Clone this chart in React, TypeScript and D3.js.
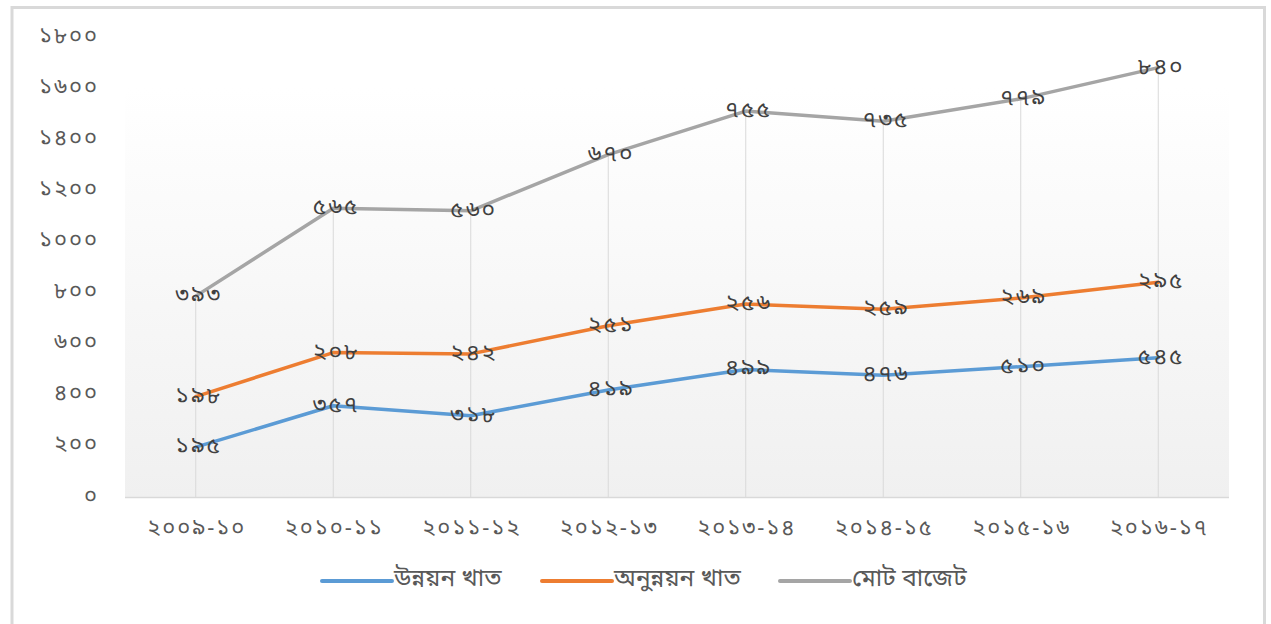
import * as d3 from "d3";

const years = ["২০০৯-১০", "২০১০-১১", "২০১১-১২", "২০১২-১৩", "২০১৩-১৪", "২০১৪-১৫", "২০১৫-১৬", "২০১৬-১৭"];
const development = [195, 357, 318, 419, 499, 476, 510, 545];
const nonDevelopment = [198, 208, 242, 251, 256, 259, 269, 295];
const totalBudget = [393, 565, 560, 670, 755, 735, 779, 840];
const seriesNames = ["উন্নয়ন খাত", "অনুন্নয়ন খাত", "মোট বাজেট"];
const colors = ["#5B9BD5", "#ED7D31", "#A5A5A5"];
const yTicks = [0, 200, 400, 600, 800, 1000, 1200, 1400, 1600, 1800];

const bnDigits = "০১২৩৪৫৬৭৮৯";
const toBn = (n: number) =>
  String(n).replace(/[0-9]/g, (c) => bnDigits[+c]);

const FONT = "'Noto Sans Bengali', 'Noto Sans', sans-serif";

const App = () => {
  const width = 1271;
  const height = 624;
  const plot = { left: 127, right: 1227, top: 37, bottom: 497 };

  const rows = years.map((y, i) => ({
    year: y,
    a: development[i],
    b: nonDevelopment[i],
    c: totalBudget[i],
  }));
  const stacked = d3.stack<any>().keys(["a", "b", "c"])(rows);

  const x = d3.scalePoint<string>().domain(years).range([plot.left, plot.right]).padding(0.5);
  const y = d3.scaleLinear().domain([0, 1800]).range([plot.bottom, plot.top]);

  const line = d3
    .line<any>()
    .x((d) => x(d.data.year) as number)
    .y((d) => y(d[1]));

  const raw = [development, nonDevelopment, totalBudget];
  const top = stacked[2];

  const legendX = [322, 542, 780];

  return (
    <svg
      width={width}
      height={height}
      style={{ position: "absolute", left: 0, top: 0, background: "#fff" }}
      fontFamily={FONT}
    >
      <defs>
        <linearGradient id="bg" x1="0" y1="0" x2="0" y2="1">
          <stop offset="0" stopColor="#ffffff" />
          <stop offset="1" stopColor="#f0f0f0" />
        </linearGradient>
      </defs>
      {/* outer frame */}
      <rect x={12} y={7.5} width={1252.5} height={630} fill="#fff" stroke="#d9d9d9" strokeWidth={3} />

      <rect x={125} y={88} width={1104} height={plot.bottom - 88} fill="url(#bg)" />

      {/* drop lines */}
      {top.map((d, i) => (
        <line
          key={i}
          x1={x(d.data.year)}
          x2={x(d.data.year)}
          y1={y(d[1])}
          y2={plot.bottom}
          stroke="#d9d9d9"
          strokeWidth={1}
        />
      ))}
      <line x1={125} x2={1229} y1={plot.bottom + 0.5} y2={plot.bottom + 0.5} stroke="#d9d9d9" strokeWidth={1.5} />

      {yTicks.map((t) => (
        <text
          key={t}
          x={99}
          y={y(t)}
          textAnchor="end"
          dominantBaseline="central"
          fontSize={22}
          letterSpacing={2}
          fill="#595959"
        >
          {toBn(t)}
        </text>
      ))}

      {years.map((yr) => (
        <text
          key={yr}
          x={(x(yr) as number) + 1}
          y={529}
          textAnchor="middle"
          dominantBaseline="central"
          fontSize={22}
          letterSpacing={2}
          fill="#595959"
        >
          {yr}
        </text>
      ))}

      {stacked.map((s, si) => (
        <path
          key={si}
          d={line(s) as string}
          fill="none"
          stroke={colors[si]}
          strokeWidth={3.5}
          strokeLinejoin="round"
          strokeLinecap="round"
        />
      ))}

      {stacked.map((s, si) =>
        s.map((d, i) => (
          <text
            key={si + "-" + i}
            x={(x(d.data.year) as number) + 3}
            y={y(d[1])}
            textAnchor="middle"
            dominantBaseline="central"
            fontSize={23}
            letterSpacing={2}
            fill="#404040"
          >
            {toBn(raw[si][i])}
          </text>
        ))
      )}

      {seriesNames.map((name, i) => (
        <g key={name}>
          <line
            x1={legendX[i]}
            x2={legendX[i] + 70}
            y1={581}
            y2={581}
            stroke={colors[i]}
            strokeWidth={4}
            strokeLinecap="round"
          />
          <text
            x={legendX[i] + 72}
            y={580}
            dominantBaseline="central"
            fontSize={24.5}
            fill="#595959"
          >
            {name}
          </text>
        </g>
      ))}
    </svg>
  );
};

export default App;
